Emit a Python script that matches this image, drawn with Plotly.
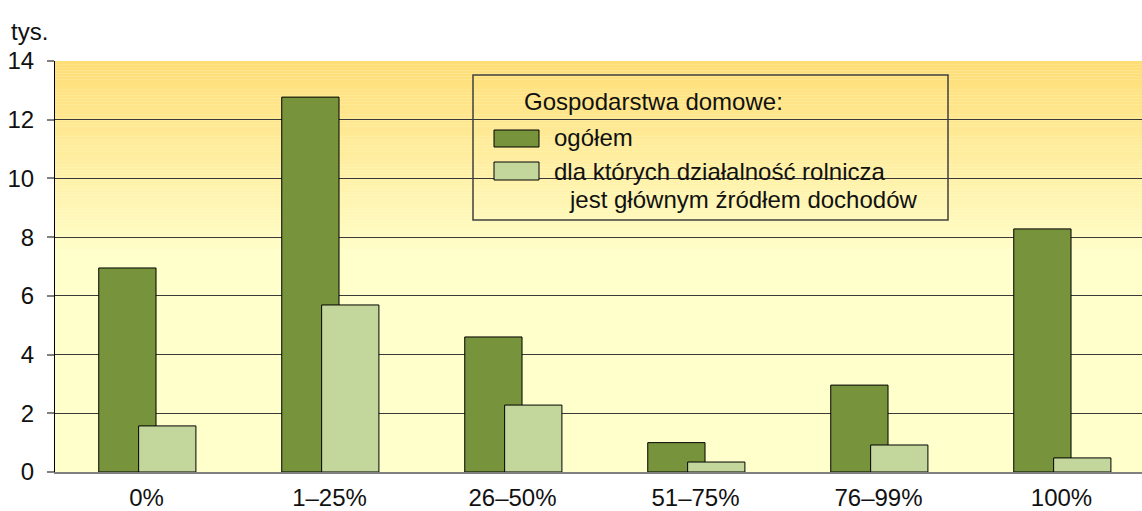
import plotly.graph_objects as go

categories = ["0%", "1–25%", "26–50%", "51–75%", "76–99%", "100%"]
ogolem = [6.95, 12.77, 4.6, 1.0, 2.96, 8.28]
rolnicze = [1.57, 5.69, 2.28, 0.34, 0.92, 0.48]
y_ticks = [0, 2, 4, 6, 8, 10, 12, 14]

legend_title = "Gospodarstwa domowe:"
name_ogolem = "ogółem"
name_rolnicze_1 = "dla których działalność rolnicza"
name_rolnicze_2 = "jest głównym źródłem dochodów"

W, H = 1142, 511
ML, MR, MT, MB = 55, 0, 61, 39
PW, PH = W - ML - MR, H - MT - MB
CAT_PX = 183.0  # pixel width of one category slot

DARK = "#77933C"
LIGHT = "#C3D69B"
FONT = "Liberation Sans, Arial, sans-serif"


def px_x(x):
    return (x - ML) / PW


def px_y(y):
    return 1 - (y - MT) / PH


fig = go.Figure()
fig.add_trace(go.Bar(x=categories, y=ogolem, name=name_ogolem,
                     marker=dict(color=DARK, line=dict(color="#000000", width=1)),
                     width=0.313, offset=-0.261, showlegend=False))
fig.add_trace(go.Bar(x=categories, y=rolnicze, name=name_rolnicze_1 + " " + name_rolnicze_2,
                     marker=dict(color=LIGHT, line=dict(color="#000000", width=1)),
                     width=0.313, offset=-0.043, showlegend=False))

shapes = []
# background gradient (top of plot area)
top_c = (255, 221, 118)
bot_c = (255, 253, 200)
n = 60
y0g, y1g = 7.6, 14.0
for i in range(n):
    a = y0g + (y1g - y0g) * i / n
    b = y0g + (y1g - y0g) * (i + 1) / n
    t = (i + 0.5) / n
    c = tuple(round(bot_c[k] + (top_c[k] - bot_c[k]) * t) for k in range(3))
    shapes.append(dict(type="rect", xref="paper", yref="y", x0=0, x1=1, y0=a, y1=b,
                       fillcolor="rgb(%d,%d,%d)" % c, line=dict(width=0), layer="below"))

# legend box
shapes.append(dict(type="rect", xref="paper", yref="paper",
                   x0=px_x(473), x1=px_x(948), y0=px_y(220), y1=px_y(75),
                   line=dict(color="#404040", width=1.5), fillcolor="rgba(0,0,0,0)"))
shapes.append(dict(type="rect", xref="paper", yref="paper",
                   x0=px_x(494), x1=px_x(539), y0=px_y(147), y1=px_y(130),
                   line=dict(color="#000000", width=1), fillcolor=DARK))
shapes.append(dict(type="rect", xref="paper", yref="paper",
                   x0=px_x(494), x1=px_x(539), y0=px_y(180), y1=px_y(162),
                   line=dict(color="#000000", width=1), fillcolor=LIGHT))

tf = dict(family=FONT, size=24, color="#111111")
annotations = [
    dict(text="tys.", xref="paper", yref="paper", x=px_x(9), y=px_y(31),
         xanchor="left", yanchor="middle", showarrow=False, font=tf),
    dict(text=legend_title, xref="paper", yref="paper", x=px_x(522), y=px_y(101),
         xanchor="left", yanchor="middle", showarrow=False, font=tf),
    dict(text=name_ogolem, xref="paper", yref="paper", x=px_x(552), y=px_y(137),
         xanchor="left", yanchor="middle", showarrow=False, font=tf),
    dict(text=name_rolnicze_1, xref="paper", yref="paper", x=px_x(552), y=px_y(171),
         xanchor="left", yanchor="middle", showarrow=False, font=tf),
    dict(text=name_rolnicze_2, xref="paper", yref="paper", x=px_x(567), y=px_y(200),
         xanchor="left", yanchor="middle", showarrow=False, font=tf),
]

fig.update_layout(
    width=W, height=H,
    margin=dict(l=ML, r=MR, t=MT, b=MB, pad=0, autoexpand=False),
    paper_bgcolor="#FFFFFF",
    plot_bgcolor="#FFFFCC",
    barmode="overlay",
    showlegend=False,
    font=tf,
    shapes=shapes,
    annotations=annotations,
)
fig.update_xaxes(
    type="category", categoryorder="array", categoryarray=categories,
    range=[-0.5, -0.5 + PW / CAT_PX], showgrid=False, ticks="",
    showline=True, linecolor="#808080", linewidth=2,
    tickfont=tf, fixedrange=True, ticklabelstandoff=3, automargin=False,
)
fig.update_yaxes(
    range=[0, 14], tickvals=y_ticks, ticktext=[str(v) for v in y_ticks],
    showgrid=True, gridcolor="#3a3a3a", gridwidth=1,
    ticks="outside", ticklen=7, tickcolor="#808080", tickwidth=1.5,
    showline=True, linecolor="#000000", linewidth=1,
    zeroline=False, tickfont=tf, ticklabelstandoff=8, automargin=False,
)

fig.write_html(
    "out.html",
    config={"displayModeBar": False},
    post_script="document.body.style.margin='0';document.body.style.overflow='hidden';",
)
